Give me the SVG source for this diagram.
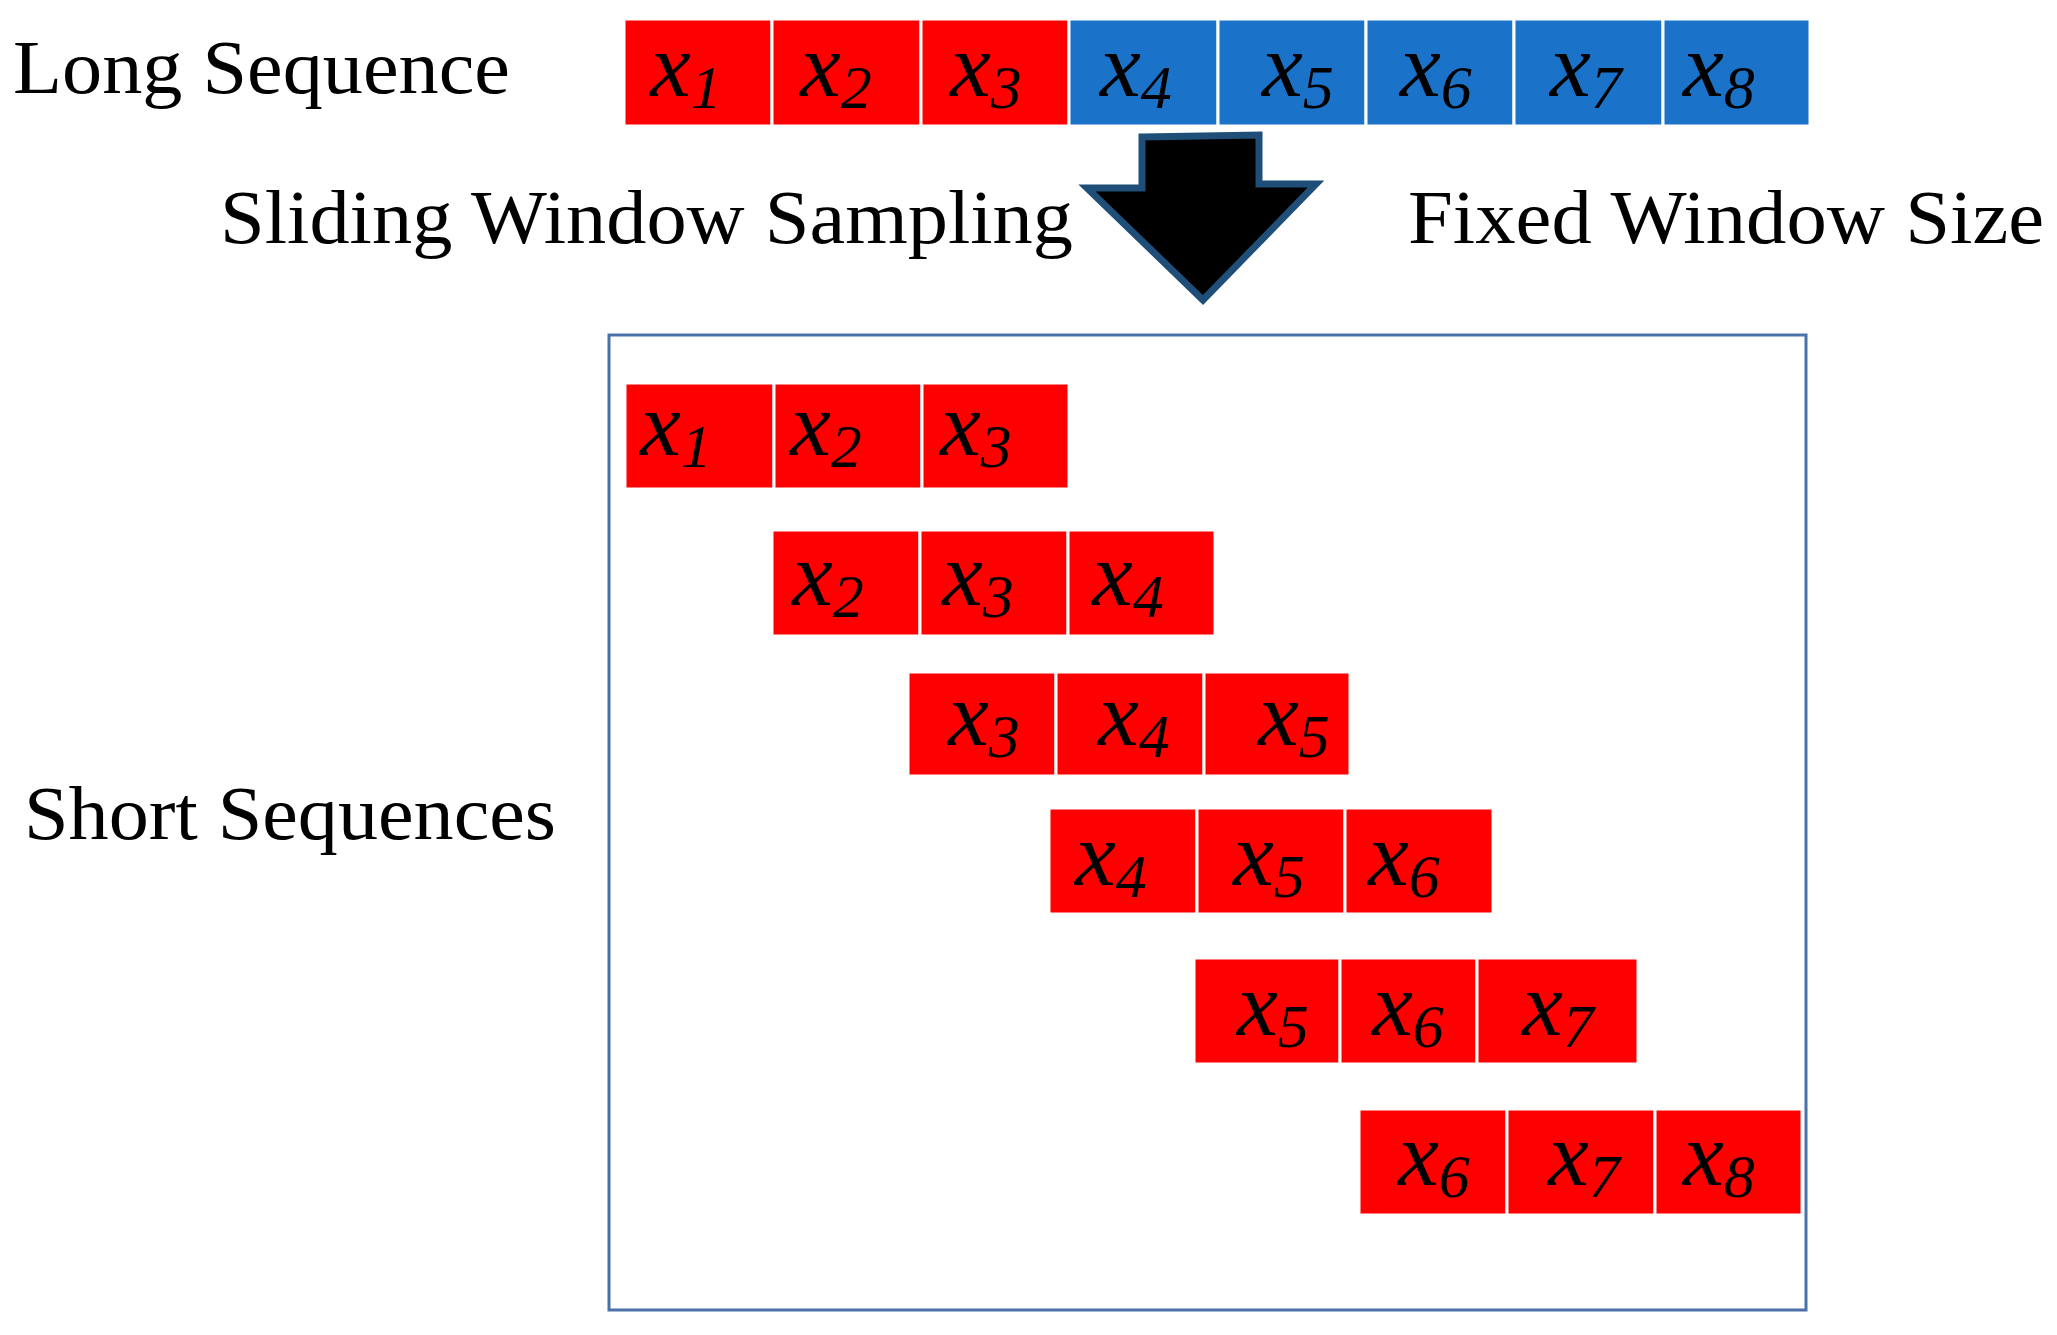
<svg xmlns="http://www.w3.org/2000/svg" width="2057" height="1335" viewBox="0 0 2057 1335">
<style>
.r{fill:#ff0000;stroke:#ffffff;stroke-width:3}
.b{fill:#1a73c8;stroke:#ffffff;stroke-width:3}
.lbl{font-family:"Liberation Serif",serif;font-size:76px;fill:#000}
.v{font-family:"Liberation Serif",serif;font-style:italic;font-size:92px;fill:#000}
.s{font-size:62px}
</style>
<rect width="2057" height="1335" fill="#fff"/>
<g id="labels">
<text class="lbl" x="13" y="93" textLength="497" lengthAdjust="spacingAndGlyphs">Long Sequence</text>
<text class="lbl" x="220" y="243" textLength="853" lengthAdjust="spacingAndGlyphs">Sliding Window Sampling</text>
<text class="lbl" x="1408" y="243" textLength="636" lengthAdjust="spacingAndGlyphs">Fixed Window Size</text>
<text class="lbl" x="24" y="839" textLength="532" lengthAdjust="spacingAndGlyphs">Short Sequences</text>
</g>
<g id="long-sequence">
<rect class="r" x="624" y="19" width="148" height="107"/>
<rect class="r" x="772" y="19" width="149" height="107"/>
<rect class="r" x="921" y="19" width="148" height="107"/>
<rect class="b" x="1069" y="19" width="149" height="107"/>
<rect class="b" x="1218" y="19" width="148" height="107"/>
<rect class="b" x="1366" y="19" width="148" height="107"/>
<rect class="b" x="1514" y="19" width="149" height="107"/>
<rect class="b" x="1663" y="19" width="147" height="107"/>
<text class="v" x="650" y="96">x<tspan class="s" dy="12">1</tspan></text>
<text class="v" x="800" y="96">x<tspan class="s" dy="12">2</tspan></text>
<text class="v" x="950" y="96">x<tspan class="s" dy="12">3</tspan></text>
<text class="v" x="1100" y="96">x<tspan class="s" dy="12">4</tspan></text>
<text class="v" x="1262" y="96">x<tspan class="s" dy="12">5</tspan></text>
<text class="v" x="1400" y="96">x<tspan class="s" dy="12">6</tspan></text>
<text class="v" x="1550" y="96">x<tspan class="s" dy="12">7</tspan></text>
<text class="v" x="1683" y="96">x<tspan class="s" dy="12">8</tspan></text>
</g>
<g id="connectors">
<polygon points="1142,137 1259,135 1259,184 1316,184 1203,300 1087,188 1142,188" fill="#000" stroke="#1f4e79" stroke-width="7" stroke-linejoin="miter"/>
</g>
<g id="short-sequences">
<rect x="609" y="335" width="1197" height="975" fill="none" stroke="#4a72a8" stroke-width="3"/>
<g id="row1">
<rect class="r" x="625" y="383" width="149" height="106"/><rect class="r" x="774" y="383" width="148" height="106"/><rect class="r" x="922" y="383" width="147" height="106"/>
<text class="v" x="640" y="455">x<tspan class="s" dy="12">1</tspan></text>
<text class="v" x="790" y="455">x<tspan class="s" dy="12">2</tspan></text>
<text class="v" x="940" y="455">x<tspan class="s" dy="12">3</tspan></text>
</g>
<g id="row2">
<rect class="r" x="772" y="530" width="148" height="106"/><rect class="r" x="920" y="530" width="148" height="106"/><rect class="r" x="1068" y="530" width="147" height="106"/>
<text class="v" x="792" y="605">x<tspan class="s" dy="12">2</tspan></text>
<text class="v" x="942" y="605">x<tspan class="s" dy="12">3</tspan></text>
<text class="v" x="1092" y="605">x<tspan class="s" dy="12">4</tspan></text>
</g>
<g id="row3">
<rect class="r" x="908" y="672" width="148" height="104"/><rect class="r" x="1056" y="672" width="148" height="104"/><rect class="r" x="1204" y="672" width="146" height="104"/>
<text class="v" x="948" y="745">x<tspan class="s" dy="12">3</tspan></text>
<text class="v" x="1098" y="745">x<tspan class="s" dy="12">4</tspan></text>
<text class="v" x="1258" y="745">x<tspan class="s" dy="12">5</tspan></text>
</g>
<g id="row4">
<rect class="r" x="1049" y="808" width="148" height="106"/><rect class="r" x="1197" y="808" width="148" height="106"/><rect class="r" x="1345" y="808" width="148" height="106"/>
<text class="v" x="1075" y="885">x<tspan class="s" dy="12">4</tspan></text>
<text class="v" x="1233" y="885">x<tspan class="s" dy="12">5</tspan></text>
<text class="v" x="1368" y="885">x<tspan class="s" dy="12">6</tspan></text>
</g>
<g id="row5">
<rect class="r" x="1194" y="958" width="146" height="106"/><rect class="r" x="1340" y="958" width="137" height="106"/><rect class="r" x="1477" y="958" width="161" height="106"/>
<text class="v" x="1237" y="1035">x<tspan class="s" dy="12">5</tspan></text>
<text class="v" x="1372" y="1035">x<tspan class="s" dy="12">6</tspan></text>
<text class="v" x="1522" y="1035">x<tspan class="s" dy="12">7</tspan></text>
</g>
<g id="row6">
<rect class="r" x="1359" y="1109" width="148" height="106"/><rect class="r" x="1507" y="1109" width="148" height="106"/><rect class="r" x="1655" y="1109" width="147" height="106"/>
<text class="v" x="1398" y="1185">x<tspan class="s" dy="12">6</tspan></text>
<text class="v" x="1548" y="1185">x<tspan class="s" dy="12">7</tspan></text>
<text class="v" x="1683" y="1185">x<tspan class="s" dy="12">8</tspan></text>
</g>
</g>
</svg>
